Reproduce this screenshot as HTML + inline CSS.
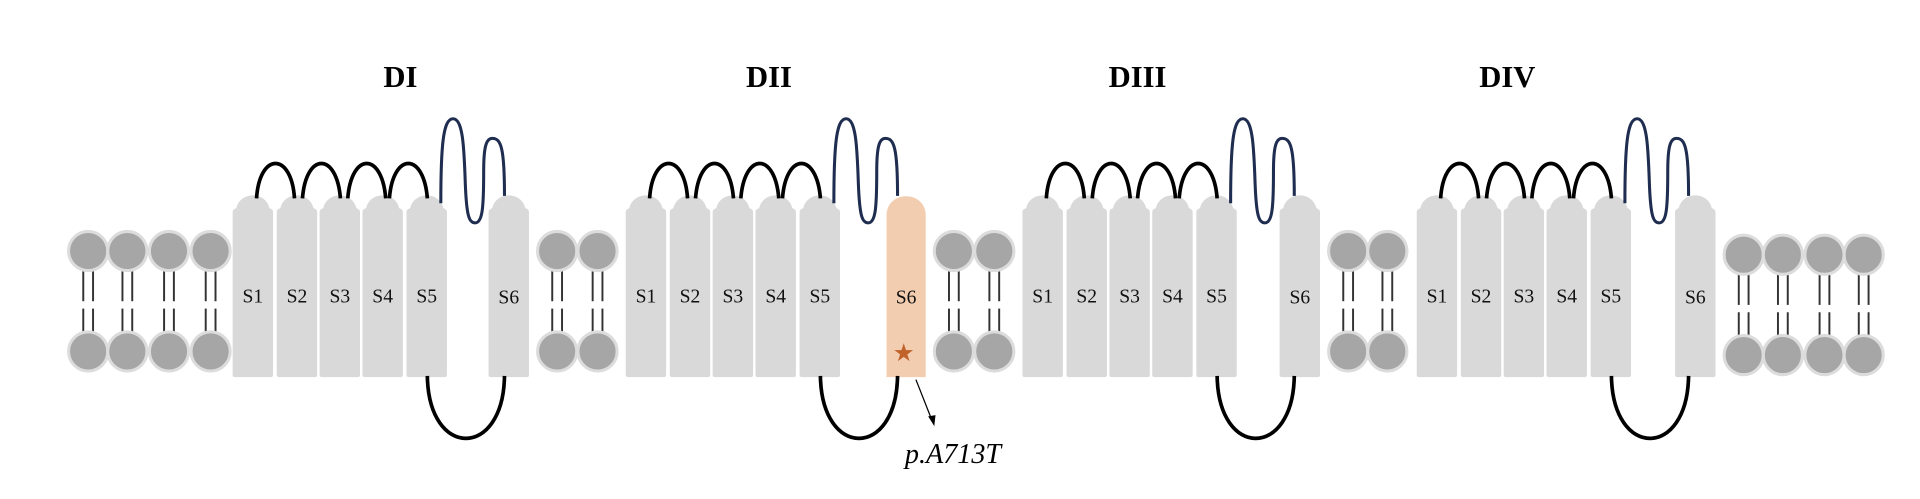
<!DOCTYPE html>
<html><head><meta charset="utf-8"><style>
html,body{margin:0;padding:0;background:#fff;}
svg{display:block;}
.lbl{font-family:"Liberation Serif",serif;font-size:16px;fill:#111;text-anchor:middle;}
.ttl{font-family:"Liberation Serif",serif;font-size:25px;font-weight:bold;fill:#000;text-anchor:middle;}
</style></head><body>
<svg width="1920" height="499" viewBox="0 0 1568 407.5" preserveAspectRatio="none" xmlns="http://www.w3.org/2000/svg">
<defs>
<g id="lip">
<line x1="-4" y1="220" x2="-4" y2="246" stroke="#333" stroke-width="1.6"/>
<line x1="4" y1="220" x2="4" y2="246" stroke="#333" stroke-width="1.6"/>
<line x1="-4" y1="252" x2="-4" y2="272" stroke="#333" stroke-width="1.6"/>
<line x1="4" y1="252" x2="4" y2="272" stroke="#333" stroke-width="1.6"/>
<circle cx="0" cy="205" r="16" fill="#a6a6a6" stroke="#dcdcdc" stroke-width="2.5"/>
<circle cx="0" cy="287" r="16" fill="#a6a6a6" stroke="#dcdcdc" stroke-width="2.5"/>
</g>
<path id="seg" d="M0 306 V173 Q0 171 3 170 C6 156 27 156 30 170 Q33 171 33 173 V306 Q33 308 31 308 H2 Q0 308 0 306 Z" fill="#d9d9d9"/>
<g id="loops" fill="none">
<path d="M19.5 162 C22 124 48 124 50.5 162" stroke="#000" stroke-width="3"/>
<path d="M57 162 C60 124 85 124 88 162" stroke="#000" stroke-width="3"/>
<path d="M94 162 C97 124 122 124 125 162" stroke="#000" stroke-width="3"/>
<path d="M128 162 C131 124 156 124 159 162" stroke="#000" stroke-width="3"/>
<path d="M159 307 C160 375 221 375 222 307" stroke="#000" stroke-width="3"/>
<path d="M170 166 C170 118 172 97 180 97 C188 97 189 120 190 150 C191 176 193 182 198 182 C204 182 205 170 205 140 C205 120 207 113 212 113 C219 113 222 120 222 160" stroke="#1f2d50" stroke-width="2.5"/>
</g>
<g id="five">
<use href="#seg" x="0"/><use href="#seg" x="36"/><use href="#seg" x="71"/><use href="#seg" x="106"/><use href="#seg" x="142"/>
</g>
</defs>

<text class="ttl" x="327" y="71">DI</text>
<text class="ttl" x="628" y="71">DII</text>
<text class="ttl" x="929" y="71">DIII</text>
<text class="ttl" x="1231" y="71">DIV</text>

<use href="#lip" x="72"/><use href="#lip" x="104"/><use href="#lip" x="138"/><use href="#lip" x="172"/>
<use href="#lip" x="455"/><use href="#lip" x="488"/>
<use href="#lip" x="779"/><use href="#lip" x="812"/>
<use href="#lip" x="1101"/><use href="#lip" x="1133"/>
<g transform="translate(0,3)">
<use href="#lip" x="1424"/><use href="#lip" x="1456"/><use href="#lip" x="1490"/><use href="#lip" x="1522"/>
</g>

<g transform="translate(190,0)">
<use href="#five"/><use href="#seg" x="209"/><use href="#loops"/>
<text class="lbl" x="16.5" y="247">S1</text><text class="lbl" x="52.5" y="247">S2</text><text class="lbl" x="87.5" y="247">S3</text><text class="lbl" x="122.5" y="247">S4</text><text class="lbl" x="158.5" y="247">S5</text><text class="lbl" x="225.5" y="248">S6</text>
</g>
<g transform="translate(511,0)">
<use href="#five"/>
<path d="M213 306 V176 C213 155 245 155 245 176 V308 H213 Z" fill="#f2cdb0"/>
<use href="#loops"/>
<text class="lbl" x="16.5" y="247">S1</text><text class="lbl" x="52.5" y="247">S2</text><text class="lbl" x="87.5" y="247">S3</text><text class="lbl" x="122.5" y="247">S4</text><text class="lbl" x="158.5" y="247">S5</text><text class="lbl" x="229" y="248">S6</text>
<text x="227" y="295" font-family="DejaVu Sans,sans-serif" font-size="20" fill="#c0622a" text-anchor="middle">★</text>
</g>
<g transform="translate(835,0)">
<use href="#five"/><use href="#seg" x="210"/><use href="#loops"/>
<text class="lbl" x="16.5" y="247">S1</text><text class="lbl" x="52.5" y="247">S2</text><text class="lbl" x="87.5" y="247">S3</text><text class="lbl" x="122.5" y="247">S4</text><text class="lbl" x="158.5" y="247">S5</text><text class="lbl" x="226.5" y="248">S6</text>
</g>
<g transform="translate(1157,0)">
<use href="#five"/><use href="#seg" x="211"/><use href="#loops"/>
<text class="lbl" x="16.5" y="247">S1</text><text class="lbl" x="52.5" y="247">S2</text><text class="lbl" x="87.5" y="247">S3</text><text class="lbl" x="122.5" y="247">S4</text><text class="lbl" x="158.5" y="247">S5</text><text class="lbl" x="227.5" y="248">S6</text>
</g>

<line x1="748" y1="310" x2="761" y2="343" stroke="#000" stroke-width="1"/>
<path d="M763 348 L758 340 L764 339 Z" fill="#000"/>
<text x="739" y="378" font-family="Liberation Serif,serif" font-style="italic" font-size="23" fill="#000">p.A713T</text>
</svg>
</body></html>
